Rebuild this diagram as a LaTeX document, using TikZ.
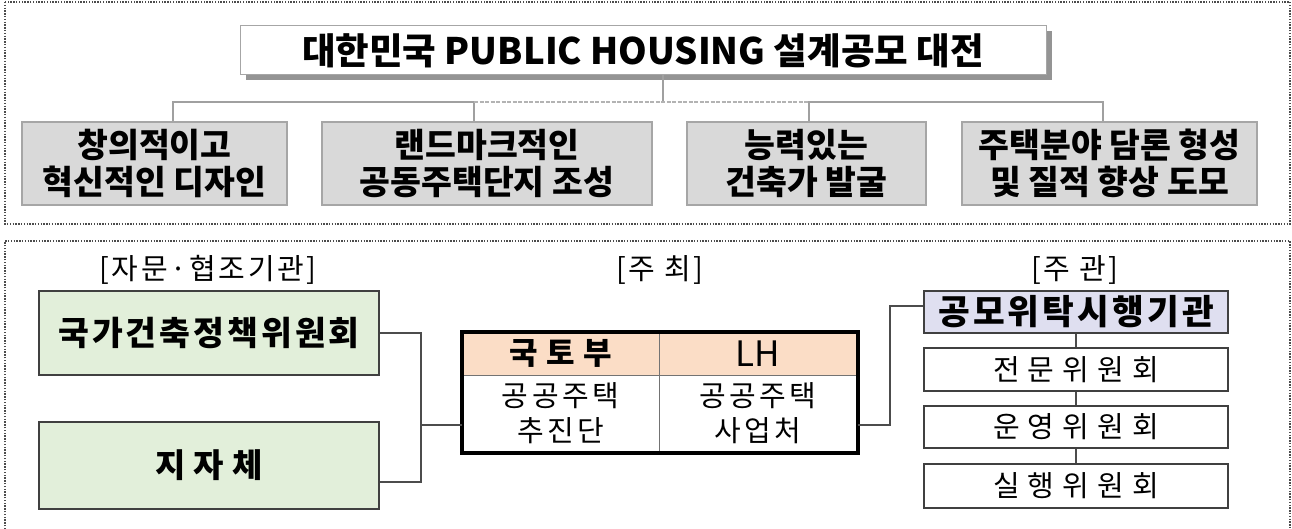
\documentclass[tikz,border=0pt]{standalone}
\usepackage{fontspec}
\setmainfont{Noto Sans CJK KR}
\newfontfamily\krls{Noto Sans CJK KR}[LetterSpace=9]
\newfontfamily\krlm{Noto Sans CJK KR}[LetterSpace=28]
\newfontfamily\krlw{Noto Sans CJK KR}[LetterSpace=24]
\newfontfamily\krlb{Noto Sans CJK KR}[LetterSpace=12]
\definecolor{gboxfill}{HTML}{D9D9D9}
\definecolor{gboxdraw}{HTML}{A6A6A6}
\definecolor{greenfill}{HTML}{E2EFDA}
\definecolor{peach}{HTML}{FBDDC6}
\definecolor{lav}{HTML}{DFDFF0}
\definecolor{busgray}{HTML}{A0A0A0}
\begin{document}
\begin{tikzpicture}[x=1pt,y=-1pt,
  frame/.style={draw=black!70,line width=1.3pt,dash pattern=on 1.4pt off 1.4pt},
  goal/.style={draw=gboxdraw,line width=1.3pt,fill=gboxfill,inner sep=0pt,align=center,
    font=\fontsize{33.5}{37}\selectfont\bfseries},
  bus/.style={draw=busgray,line width=2.4pt},
  busd/.style={draw=busgray!80,line width=2.4pt,dash pattern=on 4pt off 1.5pt},
  greenbox/.style={draw=black!75,line width=1.2pt,fill=greenfill,inner sep=0pt,minimum width=340pt},
  lbl/.style={inner sep=0pt,font=\fontsize{29}{32}\selectfont\krls},
  cell/.style={draw=black!55,line width=1pt,inner sep=0pt,align=center},
  rbox/.style={draw=black!75,line width=1.2pt,fill=white,inner sep=0pt,minimum width=304pt},
  conn/.style={draw=black!70,line width=1.2pt}
]
\useasboundingbox (0,0) rectangle (1292,529);
% frames
\draw[frame] (5,2) rectangle (1290,224);
\draw[frame] (5,532) -- (5,241) -- (1290,241) -- (1290,532);
% title
\fill[black!42] (246,31) rectangle (1052,80);
\node[draw=black!35,line width=1pt,fill=white,minimum width=806pt,minimum height=49pt,inner sep=0pt,
  font=\fontsize{36.5}{40}\selectfont\bfseries] (title) at (643,50.5) {대한민국 PUBLIC HOUSING 설계공모 대전};
% goal boxes
\node[goal,minimum width=265pt,minimum height=83pt] (b1) at (154.5,163.5) {창의적이고\\혁신적인 디자인};
\node[goal,minimum width=330pt,minimum height=83pt] (b2) at (487,163.5) {랜드마크적인\\공동주택단지 조성};
\node[goal,minimum width=239pt,minimum height=83pt] (b3) at (806.5,163.5) {능력있는\\건축가 발굴};
\node[goal,minimum width=295pt,minimum height=83pt] (b4) at (1109.5,163.5) {주택분야 담론 형성\\및 질적 향상 도모};
% bus
\coordinate (bus) at (0,102);
\draw[bus] ([xshift=20pt]title.south) -- ([xshift=20pt]title.south |- bus);
\draw[bus] ([xshift=18.5pt]b1.north) -- ([xshift=18.5pt]b1.north |- bus) -- ([xshift=-13pt]b2.north |- bus) -- ([xshift=-13pt]b2.north);
\draw[busd] ([xshift=-13pt]b2.north |- bus) -- ([xshift=2.5pt]b3.north |- bus);
\draw[bus] ([xshift=2.5pt]b3.north) -- ([xshift=2.5pt]b3.north |- bus) -- ([xshift=-6.5pt]b4.north |- bus) -- ([xshift=-6.5pt]b4.north);
% labels
\node[lbl] (l1) at (208,270) {[자문·협조기관]};
\node[lbl] (l2) at (660,270) {[주 최]};
\node[lbl] (l3) at (1075,270) {[주 관]};
% green boxes
\node[greenbox,minimum height=84pt,font=\fontsize{33.5}{36}\selectfont\bfseries\krls] (g1) at (209,333) {국가건축정책위원회};
\node[greenbox,minimum height=87pt,font=\fontsize{33}{36}\selectfont\bfseries\krlw] (g2) at (209,465.5) {지자체};
% table
\node[cell,fill=peach,minimum width=197pt,minimum height=43pt,font=\fontsize{31}{34}\selectfont\bfseries\krlm] (hl) at (560.5,353.5) {국토부};
\node[cell,fill=peach,minimum width=198pt,minimum height=43pt,font=\fontsize{35}{36}\selectfont] (hr) at (758,353.5) {LH};
\node[cell,fill=white,minimum width=197pt,minimum height=77pt,font=\fontsize{29}{35}\selectfont\krlb] (bl) at (560.5,413.5) {공공주택\\추진단};
\node[cell,fill=white,minimum width=198pt,minimum height=77pt,font=\fontsize{29}{35}\selectfont\krlb] (br) at (758,413.5) {공공주택\\사업처};
\draw[line width=4pt] (hl.north west) rectangle (br.south east);
% left connector
\coordinate (j) at (421,425);
\draw[conn] (g1.east) -| (j) |- ([yshift=-16.5pt]g2.east);
\draw[conn] (j) -- (j -| bl.west);
% right column
\node[rbox,fill=lav,minimum height=42pt,font=\fontsize{34.5}{36}\selectfont\bfseries\krls] (gm) at (1076,312) {공모위탁시행기관};
\node[rbox,minimum height=43pt,font=\fontsize{29}{32}\selectfont\krlm] (r1) at (1076,369.5) {전문위원회};
\node[rbox,minimum height=42pt,font=\fontsize{29}{32}\selectfont\krlm] (r2) at (1076,427) {운영위원회};
\node[rbox,minimum height=44pt,font=\fontsize{29}{32}\selectfont\krlm] (r3) at (1076,486) {실행위원회};
\coordinate (k) at (890,425);
\draw[conn] (k -| br.east) -- (k) |- ([yshift=6pt]gm.west);
\draw[conn] (gm) -- (r1);
\draw[conn] (r1) -- (r2);
\draw[conn] (r2) -- (r3);
\end{tikzpicture}
\end{document}
